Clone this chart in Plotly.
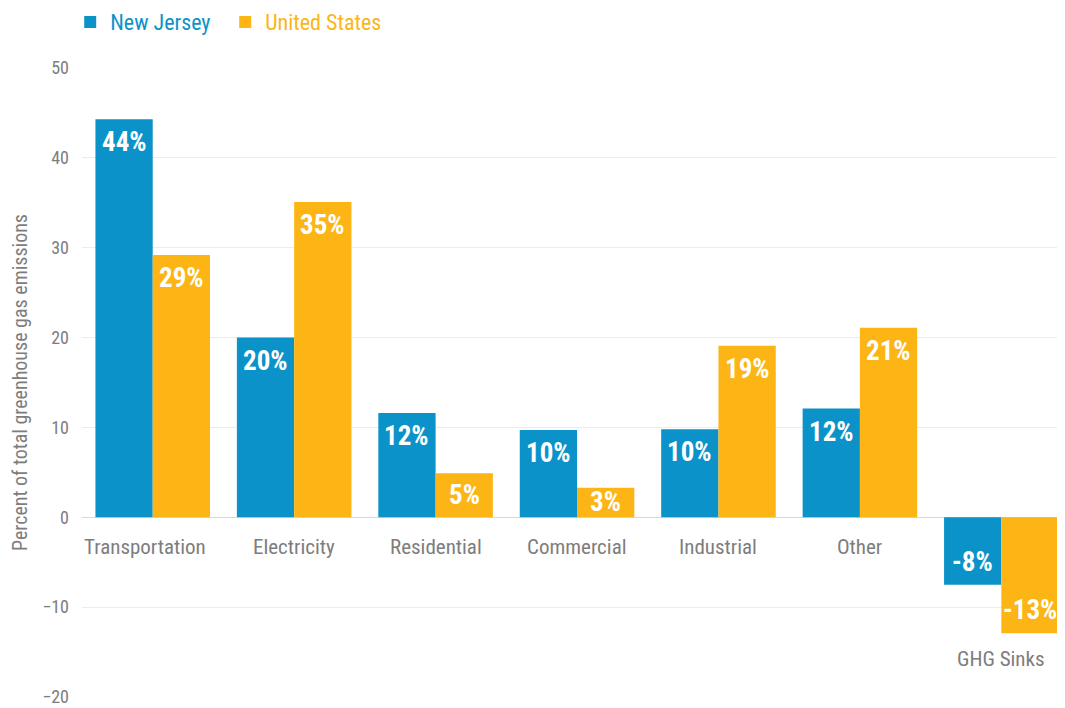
import plotly.graph_objects as go

# data
categories = ["Transportation", "Electricity", "Residential", "Commercial",
              "Industrial", "Other", "GHG Sinks"]
nj_values = [44.3, 20.0, 11.6, 9.7, 9.8, 12.1, -7.5]
us_values = [29.2, 35.1, 4.9, 3.3, 19.1, 21.1, -12.9]
nj_labels = ["44%", "20%", "12%", "10%", "10%", "12%", "-8%"]
us_labels = ["29%", "35%", "5%", "3%", "19%", "21%", "-13%"]
y_ticks = [-20, -10, 0, 10, 20, 30, 40, 50]

BLUE = "#0b93c9"
GOLD = "#fcb514"
GREY = "#7d7d7d"
FONT = "Roboto Condensed, Liberation Sans Narrow, DejaVu Sans Condensed, Roboto, sans-serif"
BARGAP = 0.19
HALF = (1 - BARGAP) / 4  # offset of each bar centre from its category centre

W, H = 1057, 700
M = dict(l=74, r=0, t=60, b=11)
Y_RANGE = [-20, 50]
px_per_unit = (H - M["t"] - M["b"]) / (Y_RANGE[1] - Y_RANGE[0])

fig = go.Figure()
fig.add_trace(go.Bar(
    x=categories, y=nj_values,
    name=f"<span style='color:{BLUE}'>New Jersey</span>",
    marker=dict(color=BLUE, line=dict(width=0)),
))
fig.add_trace(go.Bar(
    x=categories, y=us_values,
    name=f"<span style='color:{GOLD}'>United States</span>",
    marker=dict(color=GOLD, line=dict(width=0)),
))

# value labels, just inside the end of each bar (centred on short bars)
for i, (cat, a, b) in enumerate(zip(categories, nj_values, us_values)):
    for off, val, lab in ((-HALF, a, nj_labels[i]), (HALF, b, us_labels[i])):
        shift = min(23, abs(val) * px_per_unit / 2)
        fig.add_annotation(
            x=i + off, y=val, text=lab, showarrow=False,
            yanchor="middle", yshift=-shift if val > 0 else shift,
            font=dict(family=FONT, size=27, color="white", weight="bold"),
        )
    # category labels sit just under the lowest bar of each group
    low = min(0, a, b)
    fig.add_annotation(
        x=cat, y=low, text=cat, showarrow=False,
        yanchor="top", yshift=-16 if low == 0 else -12,
        xshift=-8 if i == 0 else 0,
        font=dict(family=FONT, size=21, color=GREY),
    )

fig.update_layout(
    width=W, height=H,
    margin=dict(**M, autoexpand=False),
    paper_bgcolor="white", plot_bgcolor="white",
    barmode="group", bargap=BARGAP, bargroupgap=0,
    font=dict(family=FONT, color=GREY),
    showlegend=True,
    legend=dict(
        orientation="h", x=-0.012, xanchor="left", y=1.073, yanchor="middle",
        font=dict(family=FONT, size=22), itemwidth=30, traceorder="normal",
        entrywidth=110, bgcolor="rgba(0,0,0,0)",
    ),
)
fig.update_xaxes(
    showticklabels=False, showgrid=False, zeroline=False,
    range=[-0.5, 6.45], showline=False,
)
fig.update_yaxes(
    range=Y_RANGE, tickvals=y_ticks, showgrid=True, gridcolor="#ececec",
    gridwidth=1, zeroline=True, zerolinecolor="#d8d8d8", zerolinewidth=1,
    tickfont=dict(family=FONT, size=18, color=GREY), ticks="",
    ticklabelstandoff=12,
    title=dict(text="Percent of total greenhouse gas emissions",
               font=dict(family=FONT, size=20, color=GREY), standoff=13),
)

fig.write_html("out.html")
